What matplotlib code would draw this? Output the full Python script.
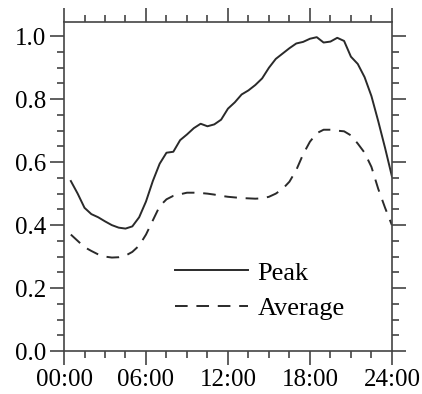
import numpy as np
import matplotlib
matplotlib.use("Agg")
import matplotlib.pyplot as plt
from matplotlib.ticker import MultipleLocator

plt.rcParams['font.family'] = ['Liberation Serif', 'DejaVu Serif']

# half-hour samples from 00:30 to 24:00
hours = np.arange(0.5, 24.01, 0.5)
peak = [0.54, 0.50, 0.455, 0.435, 0.425, 0.412, 0.400, 0.392, 0.389, 0.396,
        0.425, 0.475, 0.54, 0.595, 0.630, 0.633, 0.670, 0.688, 0.708, 0.722,
        0.714, 0.720, 0.735, 0.770, 0.790, 0.815, 0.828, 0.845, 0.866, 0.900,
        0.928, 0.945, 0.962, 0.977, 0.982, 0.992, 0.997, 0.980, 0.983, 0.995,
        0.985, 0.935, 0.912, 0.870, 0.810, 0.730, 0.645, 0.555]
average = [0.37, 0.35, 0.33, 0.318, 0.307, 0.300, 0.297, 0.298, 0.303, 0.315,
           0.335, 0.37, 0.415, 0.46, 0.482, 0.493, 0.498, 0.503, 0.503, 0.502,
           0.500, 0.497, 0.493, 0.490, 0.488, 0.486, 0.485, 0.484, 0.485, 0.490,
           0.500, 0.515, 0.538, 0.575, 0.625, 0.665, 0.692, 0.703, 0.703, 0.700,
           0.698, 0.685, 0.659, 0.630, 0.585, 0.515, 0.455, 0.40]
xticks = [0, 6, 12, 18, 24]
xticklabels = ['00:00', '06:00', '12:00', '18:00', '24:00']

fig = plt.figure(figsize=(4.22, 3.94), dpi=100)
ax = fig.add_axes([0.1517, 0.109, 0.777, 0.835])

col = '#2a2a2a'
ax.plot(hours, peak, color=col, lw=1.4, label='Peak')
ax.plot(hours, average, color=col, lw=1.4, ls=(0, (6.5, 4.5)), label='Average')

ax.set_xlim(0, 24)
ax.set_ylim(0, 1.045)
ax.set_xticks(xticks)
ax.set_xticklabels(xticklabels)
ax.xaxis.set_minor_locator(MultipleLocator(1.5))
ax.yaxis.set_major_locator(MultipleLocator(0.2))
ax.yaxis.set_minor_locator(MultipleLocator(0.05))
ax.yaxis.set_major_formatter(plt.FormatStrFormatter('%.1f'))

ax.tick_params(which='both', direction='out', top=True, right=True,
               color='#444444', width=1.2, labelsize=18, pad=3)
ax.tick_params(which='major', length=10)
ax.tick_params(which='minor', length=5)
for s in ax.spines.values():
    s.set_color('#444444')
    s.set_linewidth(1.2)

ax.legend(loc='center left', bbox_to_anchor=(0.338, 0.184), frameon=False,
          fontsize=19, handlelength=2.76, handletextpad=0.38,
          labelspacing=0.45, borderpad=0, borderaxespad=0)

fig.savefig('out.png', dpi=100)
